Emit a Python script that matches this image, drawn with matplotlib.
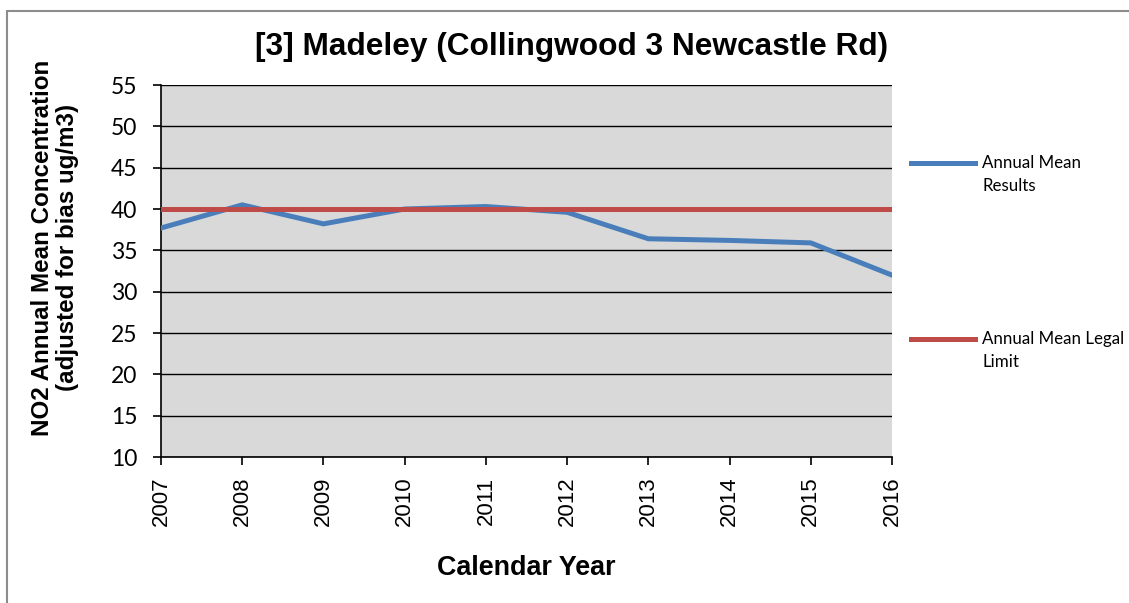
import matplotlib.pyplot as plt
from matplotlib.lines import Line2D
from matplotlib.patches import Rectangle

years = ["2007", "2008", "2009", "2010", "2011", "2012", "2013", "2014", "2015", "2016"]
results = [37.7, 40.5, 38.2, 40.0, 40.3, 39.6, 36.4, 36.2, 35.9, 32.0]
legal_limit = [40] * len(years)

BLUE = "#4A7EBB"
RED = "#BE4B48"
W, H = 1129, 603

fig = plt.figure(figsize=(W / 100, H / 100), dpi=100)
# chart frame: only its top and left edges fall inside the picture
fig.add_artist(Rectangle((7 / W, -0.05), 1.1, 1 - 11 / H + 0.05, transform=fig.transFigure,
                         fill=False, edgecolor="#8C8C8C", lw=1.5))

ax = fig.add_axes([161 / W, 1 - 457 / H, (892 - 161) / W, (457 - 85) / H])
ax.set_facecolor("#D9D9D9")
x = list(range(len(years)))
ax.plot(x, results, color=BLUE, lw=3.6, solid_joinstyle="miter", zorder=3)
ax.plot(x, legal_limit, color=RED, lw=3.6, zorder=4)

ax.set_xlim(0, len(years) - 1)
ax.set_ylim(10, 55)
ax.set_yticks(range(10, 56, 5))
ax.set_xticks(x)
ax.set_xticklabels(years, rotation=90)
ax.yaxis.grid(True, color="black", lw=1.0)
ax.set_axisbelow(True)
for s in ("top", "right"):
    ax.spines[s].set_visible(False)
for s in ("left", "bottom"):
    ax.spines[s].set_linewidth(1.2)
ax.tick_params(direction="out", length=6, width=1.2)
ax.tick_params(axis="x", labelsize=16, pad=8)
ax.tick_params(axis="y", labelsize=16.5, pad=11)
for lab in ax.get_xticklabels():
    lab.set_fontfamily("Liberation Sans")
for lab in ax.get_yticklabels():
    lab.set_fontfamily("Lato")

fig.text(572 / W, 1 - 47 / H, "[3] Madeley (Collingwood 3 Newcastle Rd)", fontsize=22.8,
         fontweight="bold", family="Liberation Sans", ha="center", va="center")
ax.set_xlabel("Calendar Year", fontsize=19.4, fontweight="bold", family="Liberation Sans", labelpad=21)
ax.set_ylabel("NO2 Annual Mean Concentration\n(adjusted for bias ug/m3)", fontsize=17.4,
              fontweight="bold", family="Liberation Sans", linespacing=1.12)
ax.yaxis.set_label_coords(-0.112, 0.562)

# legend drawn by hand to match spacing
for yy, col, lab in [(163, BLUE, "Annual Mean\nResults"), (339, RED, "Annual Mean Legal\nLimit")]:
    fig.add_artist(Line2D([911 / W, 975 / W], [1 - yy / H, 1 - yy / H], color=col, lw=3.6))
    fig.text(982 / W, 1 - (yy - 8) / H, lab, fontsize=12.2, family="Lato", va="top", linespacing=1.5)

fig.savefig("out.png", dpi=100)
